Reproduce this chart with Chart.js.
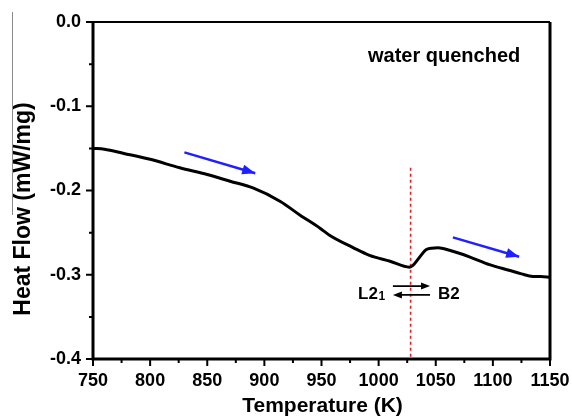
<!DOCTYPE html>
<html>
<head>
<meta charset="utf-8">
<script src="https://cdn.jsdelivr.net/npm/chart.js@4.4.1/dist/chart.umd.min.js"></script>
<style>
html,body{margin:0;padding:0;background:#fff;}
canvas{display:block;}
</style>
</head>
<body>
<canvas id="c" width="572" height="419"></canvas>
<script>
// ---- data ----
const temperatureK = [750, 760, 777, 800, 826, 850, 870, 890, 914, 931, 949, 957, 978, 992, 1010, 1027, 1030, 1036, 1042, 1052, 1062, 1080, 1097, 1115, 1125, 1135, 1142, 1150];
const heatFlow     = [-0.150, -0.151, -0.156, -0.163, -0.173, -0.181, -0.189, -0.197, -0.213, -0.229, -0.245, -0.253, -0.268, -0.277, -0.284, -0.291, -0.289, -0.279, -0.270, -0.268, -0.271, -0.279, -0.288, -0.295, -0.299, -0.302, -0.302, -0.303];
const transitionX = [1028, 1028];
const transitionY = [-0.173, -0.4];
const arrow1X = [830, 892];
const arrow1Y = [-0.1547, -0.1795];
const arrow2X = [1065, 1123];
const arrow2Y = [-0.2556, -0.2786];
const xTicks = [750, 800, 850, 900, 950, 1000, 1050, 1100, 1150];
const xMinorTicks = [775, 825, 875, 925, 975, 1025, 1075, 1125];
const yTicks = [0.0, -0.1, -0.2, -0.3, -0.4];
const yMinorTicks = [-0.05, -0.15, -0.25, -0.35];
const xTitle = 'Temperature (K)';
const yTitle = 'Heat Flow (mW/mg)';
const note = 'water quenched';

const pts = (xs, ys) => xs.map((x, i) => ({x: x, y: ys[i]}));
const FONT = '"Liberation Sans", Arial, sans-serif';

const decor = {
  id: 'decor',
  afterDraw(chart) {
    const {ctx, chartArea: a, scales: {x, y}} = chart;
    ctx.save();
    // frame
    ctx.strokeStyle = '#000';
    ctx.lineWidth = 2;
    ctx.beginPath();
    ctx.moveTo(a.left, a.top); ctx.lineTo(a.right, a.top);
    ctx.stroke();
    ctx.lineWidth = 3;
    ctx.beginPath();
    ctx.moveTo(a.right, a.top); ctx.lineTo(a.right, a.bottom);
    ctx.moveTo(a.left, a.top); ctx.lineTo(a.left, a.bottom);
    ctx.moveTo(a.left - 1.5, a.bottom); ctx.lineTo(a.right + 1.5, a.bottom);
    ctx.stroke();
    // ticks
    ctx.lineWidth = 2;
    ctx.beginPath();
    xTicks.forEach(v => { const px = x.getPixelForValue(v); ctx.moveTo(px, a.bottom); ctx.lineTo(px, a.bottom + 7); });
    xMinorTicks.forEach(v => { const px = x.getPixelForValue(v); ctx.moveTo(px, a.bottom); ctx.lineTo(px, a.bottom + 4); });
    yTicks.forEach(v => { const py = y.getPixelForValue(v); ctx.moveTo(a.left, py); ctx.lineTo(a.left - 7, py); });
    yMinorTicks.forEach(v => { const py = y.getPixelForValue(v); ctx.moveTo(a.left, py); ctx.lineTo(a.left - 4, py); });
    ctx.stroke();
    // arrowheads for blue arrows
    const head = (xs, ys, color) => {
      const x1 = x.getPixelForValue(xs[0]), y1 = y.getPixelForValue(ys[0]);
      const x2 = x.getPixelForValue(xs[1]), y2 = y.getPixelForValue(ys[1]);
      const ang = Math.atan2(y2 - y1, x2 - x1);
      const L = 13, W = 5;
      ctx.fillStyle = color;
      ctx.beginPath();
      ctx.moveTo(x2, y2);
      ctx.lineTo(x2 - L * Math.cos(ang) + W * Math.sin(ang), y2 - L * Math.sin(ang) - W * Math.cos(ang));
      ctx.lineTo(x2 - L * Math.cos(ang) - W * Math.sin(ang), y2 - L * Math.sin(ang) + W * Math.cos(ang));
      ctx.closePath();
      ctx.fill();
    };
    head(arrow1X, arrow1Y, '#1f1fff');
    head(arrow2X, arrow2Y, '#1f1fff');
    // L2_1 <-> B2 annotation
    const ax1 = x.getPixelForValue(1012.5), ax2 = x.getPixelForValue(1045);
    const ay1 = y.getPixelForValue(-0.3134), ay2 = y.getPixelForValue(-0.324);
    ctx.strokeStyle = '#000'; ctx.fillStyle = '#000'; ctx.lineWidth = 1.8;
    ctx.beginPath();
    ctx.moveTo(ax1, ay1); ctx.lineTo(ax2 - 6, ay1);
    ctx.moveTo(ax2, ay2); ctx.lineTo(ax1 + 6, ay2);
    ctx.stroke();
    ctx.beginPath();
    ctx.moveTo(ax2, ay1); ctx.lineTo(ax2 - 9, ay1 - 3.5); ctx.lineTo(ax2 - 9, ay1 + 3.5); ctx.closePath();
    ctx.moveTo(ax1, ay2); ctx.lineTo(ax1 + 9, ay2 - 3.5); ctx.lineTo(ax1 + 9, ay2 + 3.5); ctx.closePath();
    ctx.fill();
    ctx.textBaseline = 'alphabetic';
    ctx.textAlign = 'left';
    ctx.font = 'bold 17px ' + FONT;
    const lx = x.getPixelForValue(982), ly = y.getPixelForValue(-0.3285);
    ctx.fillText('L2', lx, ly);
    const w = ctx.measureText('L2').width;
    ctx.font = 'bold 12px ' + FONT;
    ctx.fillText('1', lx + w + 0.5, ly + 1);
    ctx.font = 'bold 17px ' + FONT;
    ctx.fillText('B2', x.getPixelForValue(1052), ly);
    // note
    ctx.font = 'bold 20px ' + FONT;
    ctx.fillText(note, 368, 62);
    // axis titles
    ctx.textAlign = 'center';
    ctx.textBaseline = 'middle';
    ctx.font = 'bold 21px ' + FONT;
    ctx.fillText(xTitle, (a.left + a.right) / 2 + 1, 406);
    ctx.save();
    ctx.translate(23.5, 209);
    ctx.rotate(-Math.PI / 2);
    ctx.font = 'bold 23px ' + FONT;
    ctx.fillText(yTitle, 0, 0);
    ctx.restore();
    // scan artifact line
    ctx.strokeStyle = '#8a8a8a'; ctx.lineWidth = 1;
    ctx.beginPath(); ctx.moveTo(12.5, 12); ctx.lineTo(12.5, 215); ctx.stroke();
    ctx.restore();
  }
};

new Chart(document.getElementById('c'), {
  type: 'scatter',
  data: {
    datasets: [
      {data: pts(temperatureK, heatFlow), showLine: true, borderColor: '#000', borderWidth: 3, pointRadius: 0, tension: 0.3, cubicInterpolationMode: 'monotone'},
      {data: pts(transitionX, transitionY), showLine: true, borderColor: '#e02020', borderWidth: 1.6, borderDash: [3, 3], pointRadius: 0},
      {data: pts(arrow1X, arrow1Y), showLine: true, borderColor: '#1f1fff', borderWidth: 2.5, pointRadius: 0},
      {data: pts(arrow2X, arrow2Y), showLine: true, borderColor: '#1f1fff', borderWidth: 2.5, pointRadius: 0}
    ]
  },
  options: {
    responsive: false,
    animation: false,
    layout: {padding: {left: 0, top: 22, right: 22, bottom: 0}},
    plugins: {legend: {display: false}, tooltip: {enabled: false}},
    scales: {
      x: {
        type: 'linear', min: 750, max: 1150,
        afterFit: s => { s.height = 60; s.paddingLeft = 0; s.paddingRight = 0; },
        grid: {display: false, drawTicks: false},
        border: {display: false},
        ticks: {padding: 11, color: '#000', font: {family: FONT, size: 18, weight: 'bold'}, maxRotation: 0, autoSkip: false, callback: v => String(v)},
        afterBuildTicks: s => { s.ticks = xTicks.map(v => ({value: v})); }
      },
      y: {
        type: 'linear', min: -0.4, max: 0,
        afterFit: s => { s.width = 93; s.paddingTop = 0; s.paddingBottom = 0; },
        grid: {display: false, drawTicks: false},
        border: {display: false},
        ticks: {padding: 12, color: '#000', font: {family: FONT, size: 18, weight: 'bold'}, callback: v => Number(v).toFixed(1)},
        afterBuildTicks: s => { s.ticks = yTicks.map(v => ({value: v})); }
      }
    }
  },
  plugins: [decor]
});
</script>
</body>
</html>
